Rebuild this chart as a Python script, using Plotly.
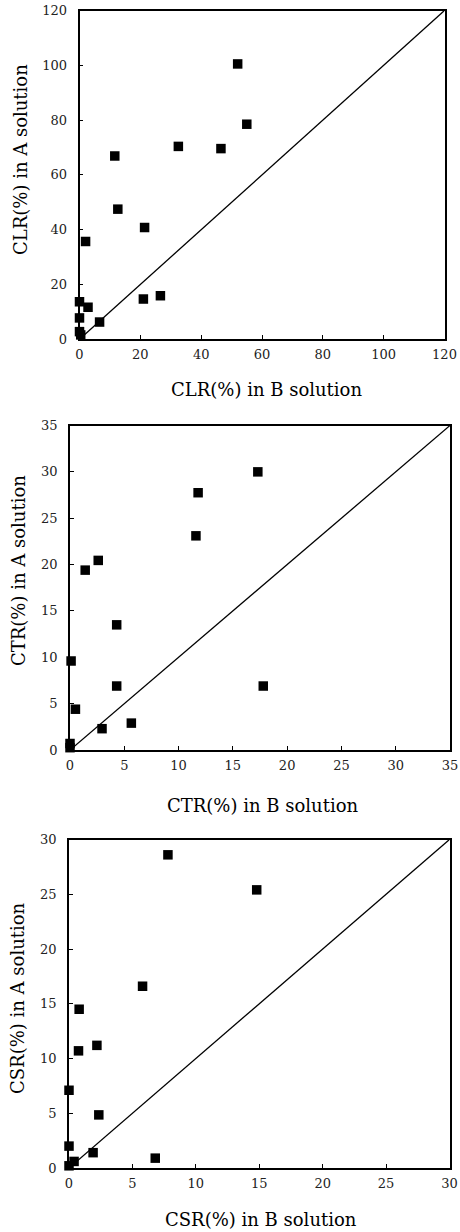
import plotly.graph_objects as go

# ---- data ----
clr_b = [52, 55, 32.5, 46.5, 11.6, 12.6, 21.4, 2.0, 21.0, 26.6, 0, 2.8, 0, 6.6, 0, 0.4]
clr_a = [100.5, 78.5, 70.4, 69.6, 66.9, 47.5, 40.8, 35.7, 14.7, 15.9, 13.7, 11.7, 7.8, 6.3, 2.8, 1.6]

ctr_b = [17.3, 11.8, 11.6, 2.6, 1.4, 4.3, 0.1, 4.3, 17.8, 0.5, 5.65, 2.95, 0, 0]
ctr_a = [30.0, 27.75, 23.1, 20.45, 19.4, 13.5, 9.6, 6.9, 6.9, 4.4, 2.9, 2.3, 0.7, 0.25]

csr_b = [7.8, 14.8, 5.8, 0.8, 0.75, 2.2, 0, 2.35, 0, 1.9, 6.8, 0.4, 0]
csr_a = [28.6, 25.4, 16.6, 14.5, 10.7, 11.2, 7.1, 4.85, 2.0, 1.4, 0.9, 0.6, 0.2]

clr_ticks = [0, 20, 40, 60, 80, 100, 120]
ctr_ticks = [0, 5, 10, 15, 20, 25, 30, 35]
csr_ticks = [0, 5, 10, 15, 20, 25, 30]

clr_line = [0, 120]
ctr_line = [0, 35]
csr_line = [0, 30]

titles = [
    ("CLR(%) in B solution", "CLR(%) in A solution"),
    ("CTR(%) in B solution", "CTR(%) in A solution"),
    ("CSR(%) in B solution", "CSR(%) in A solution"),
]

W, H = 460, 1232
FONT = "DejaVu Serif"

panels = [
    (clr_b, clr_a, clr_ticks, clr_line, 79.5, 444.5, 10.5, 339.3, (266, 390), (20, 160)),
    (ctr_b, ctr_a, ctr_ticks, ctr_line, 70, 450, 425.5, 750, (262, 805), (18, 571)),
    (csr_b, csr_a, csr_ticks, csr_line, 69, 449.5, 839.5, 1168, (261, 1219), (17, 998)),
]

fig = go.Figure()
annotations = []
for i, (xb, ya, ticks, ln, l, r, t, b, xtp, ytp) in enumerate(panels):
    n = "" if i == 0 else str(i + 1)
    fig.add_trace(go.Scatter(x=ln, y=ln, mode="lines",
                             line=dict(color="black", width=1.3),
                             xaxis="x" + n, yaxis="y" + n, showlegend=False,
                             hoverinfo="skip"))
    fig.add_trace(go.Scatter(x=xb, y=ya, mode="markers",
                             marker=dict(symbol="square", size=9.5, color="black",
                                         line=dict(width=0)),
                             cliponaxis=False,
                             xaxis="x" + n, yaxis="y" + n, showlegend=False))
    ax = dict(showgrid=False, zeroline=False, showline=True, linecolor="black",
              linewidth=1.8, mirror=True, ticks="inside", ticklen=4,
              tickcolor="black", tickwidth=1, tickvals=ticks,
              tickfont=dict(family=FONT, size=13, color="#222"),
              ticklabeloverflow="allow", automargin=False,
              range=[ticks[0], ticks[-1]], fixedrange=True)
    fig.layout["xaxis" + n] = dict(ax, domain=[l / W, r / W],
                                   anchor="y" + n, ticklabelstandoff=2)
    fig.layout["yaxis" + n] = dict(ax, domain=[1 - b / H, 1 - t / H],
                                   anchor="x" + n, ticklabelstandoff=8)
    annotations.append(dict(text=titles[i][0], xref="paper", yref="paper",
                            x=xtp[0] / W, y=1 - xtp[1] / H, showarrow=False,
                            xanchor="center", yanchor="middle",
                            font=dict(family=FONT, size=18, color="black")))
    annotations.append(dict(text=titles[i][1], xref="paper", yref="paper",
                            x=ytp[0] / W, y=1 - ytp[1] / H, showarrow=False,
                            textangle=-90, xanchor="center", yanchor="middle",
                            font=dict(family=FONT, size=18, color="black")))

fig.update_layout(width=W, height=H,
                  margin=dict(l=0, r=0, t=0, b=0, autoexpand=False),
                  paper_bgcolor="white", plot_bgcolor="white",
                  annotations=annotations, showlegend=False)

fig.write_html("out.html", config={"displayModeBar": False},
               post_script="document.documentElement.style.margin='0';"
                           "document.body.style.margin='0';"
                           "document.documentElement.style.overflow='hidden';"
                           "document.body.style.overflow='hidden';")
